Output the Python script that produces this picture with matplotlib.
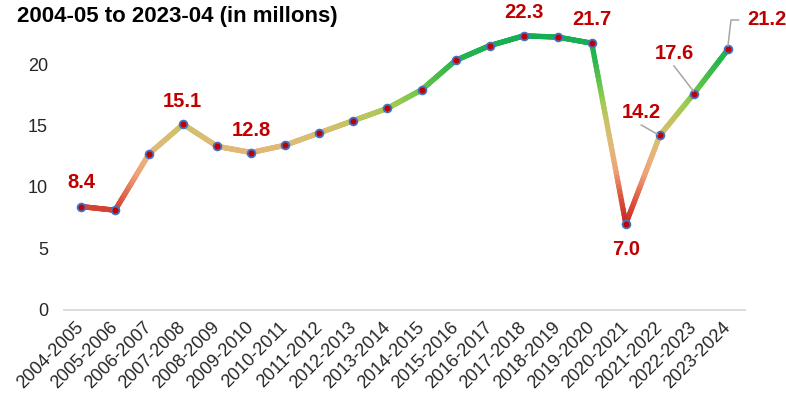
import numpy as np
import matplotlib
matplotlib.use("Agg")
import matplotlib.pyplot as plt
from matplotlib.collections import LineCollection
from matplotlib.colors import LinearSegmentedColormap, Normalize
from matplotlib.transforms import IdentityTransform, ScaledTranslation

plt.rcParams['font.family'] = ['Liberation Sans', 'DejaVu Sans']

# data
years = ["2004-2005", "2005-2006", "2006-2007", "2007-2008", "2008-2009",
         "2009-2010", "2010-2011", "2011-2012", "2012-2013", "2013-2014",
         "2014-2015", "2015-2016", "2016-2017", "2017-2018", "2018-2019",
         "2019-2020", "2020-2021", "2021-2022", "2022-2023", "2023-2024"]
values = [8.4, 8.1, 12.7, 15.1, 13.3, 12.8, 13.4, 14.4, 15.4, 16.4,
          17.9, 20.3, 21.5, 22.3, 22.2, 21.7, 7.0, 14.2, 17.6, 21.2]
labelled = [0, 3, 5, 13, 15, 16, 17, 18, 19]
title = "2004-05 to 2023-04 (in millons)"

# label offsets in pixels (dx, dy) from the point
label_off = {0: (0, 24), 3: (-1, 23), 5: (0, 22), 13: (0, 23.5), 15: (0, 24),
             16: (0, -26), 17: (-19, 23), 18: (-20, 40), 19: (39, 30)}
# leader lines, pixel offsets from the point
leaders = {17: [(-18.6, 10.3), (-2.3, 1.0)],
           18: [(-20, 27.7), (-0.7, 2.7)],
           19: [(0, 3.7), (3, 29.4), (10.6, 29.4)]}

red = "#C00000"

fig = plt.figure(figsize=(7.86, 3.99), dpi=100)
ax = fig.add_axes([64 / 786, 89.3 / 399, 681 / 786, 307 / 399])

x = np.arange(len(values))
y = np.array(values)

# line colour follows the value: red low, tan middle, green high
cmap = LinearSegmentedColormap.from_list("grad", [
    (0.00, (0.78, 0.16, 0.14)),
    (0.13, (0.86, 0.33, 0.24)),
    (0.27, (0.94, 0.63, 0.47)),
    (0.37, (0.90, 0.71, 0.47)),
    (0.45, (0.86, 0.74, 0.46)),
    (0.55, (0.78, 0.76, 0.39)),
    (0.64, (0.62, 0.80, 0.31)),
    (0.75, (0.36, 0.76, 0.29)),
    (0.88, (0.14, 0.71, 0.31)),
    (1.00, (0.08, 0.68, 0.32)),
])
norm = Normalize(vmin=7.0, vmax=22.3)

segs, cols = [], []
for i in range(len(x) - 1):
    t = np.linspace(0, 1, 40)
    xs = x[i] + (x[i + 1] - x[i]) * t
    ys = y[i] + (y[i + 1] - y[i]) * t
    pts = np.column_stack([xs, ys])
    for j in range(len(pts) - 1):
        segs.append(pts[j:j + 2])
        cols.append(cmap(norm((ys[j] + ys[j + 1]) / 2)))
lc = LineCollection(segs, colors=cols, linewidths=3.8, capstyle="round", zorder=2)
ax.add_collection(lc)

ax.plot(x, y, linestyle="none", marker="o", markersize=5.6,
        markerfacecolor=red, markeredgecolor="#4472C4", markeredgewidth=1.3, zorder=3)

ax.set_xlim(-0.5, len(x) - 0.5)
ax.set_ylim(0, 25)
ax.set_yticks([0, 5, 10, 15, 20])
ax.set_xticks(x)
ax.set_xticklabels(years, rotation=45, ha="right", va="center", rotation_mode="anchor")
for lab in ax.get_xticklabels():
    lab.set_transform(lab.get_transform() + ScaledTranslation(5 / 100, 0, fig.dpi_scale_trans))
ax.tick_params(axis="both", length=0, labelsize=13, colors="#262626")
ax.tick_params(axis="y", pad=11.5)
ax.tick_params(axis="x", pad=11)
for s in ["top", "right", "left"]:
    ax.spines[s].set_visible(False)
ax.spines["bottom"].set_color("#D9D9D9")
ax.spines["bottom"].set_linewidth(1.3)

for i in labelled:
    dx, dy = label_off[i]
    ax.annotate("{:.1f}".format(values[i]), (x[i], y[i]), xytext=(dx, dy),
                textcoords="offset pixels", ha="center", va="center",
                fontsize=14.5, fontweight="bold", color=red, zorder=4)

fig.canvas.draw()
for i, offs in leaders.items():
    px, py = ax.transData.transform((x[i], y[i]))
    lx = [px + o[0] for o in offs]
    ly = [py + o[1] for o in offs]
    fig.add_artist(plt.Line2D(lx, ly, transform=IdentityTransform(),
                              color="#A6A6A6", linewidth=1.1, zorder=5))

fig.text(17 / 786, 1 - 16.5 / 399, title, fontsize=16, fontweight="bold",
         ha="left", va="center", color="black")

fig.savefig("out.png", dpi=100)
